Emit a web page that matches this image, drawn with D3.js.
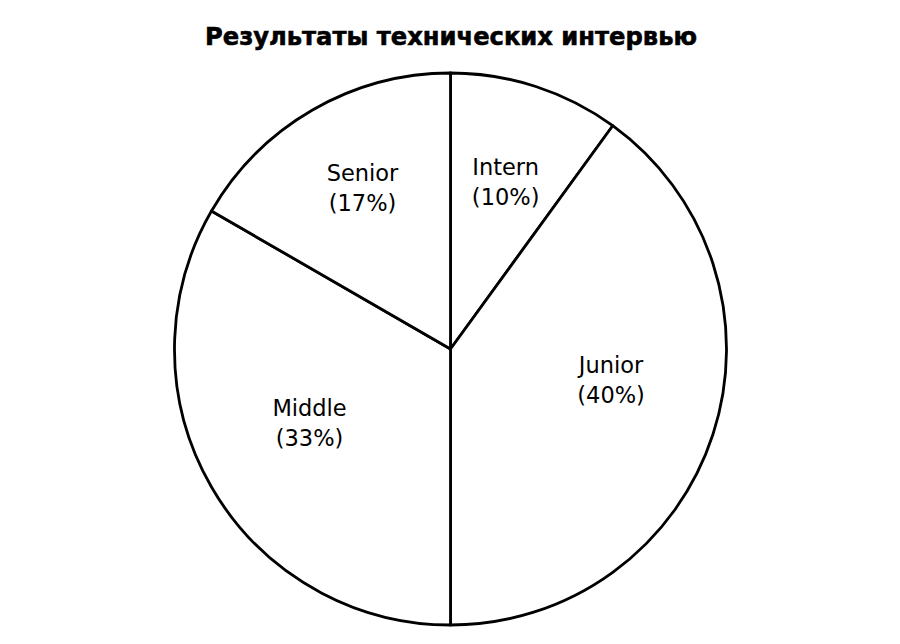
<!DOCTYPE html>
<html>
<head>
<meta charset="utf-8">
<script src="https://cdn.jsdelivr.net/npm/d3@7"></script>
<style>
  html, body { margin: 0; padding: 0; background: #fff; }
  svg { display: block; }
</style>
</head>
<body>
<svg id="chart" width="900" height="644"></svg>
<script>
// ---- data ----
const title = "Результаты технических интервью";
const categories = ["Intern", "Junior", "Middle", "Senior"];
const counts = [3, 12, 10, 5];

// ---- layout (not data) ----
const W = 900, H = 644;
const cx = 450.5, cy = 349, R = 276;
const labelRadius = 172;
const labelNudge = [[2, -4], [-3, -22], [8, -12], [-2, -12]];
const fontFamily = "'DejaVu Sans', 'Noto Sans', sans-serif";

const svg = d3.select("#chart");

// title
svg.append("text")
  .attr("x", 451).attr("y", 44.5)
  .attr("text-anchor", "middle")
  .attr("font-family", fontFamily)
  .attr("font-weight", "bold")
  .attr("font-size", 25)
  .attr("textLength", 492)
  .attr("lengthAdjust", "spacingAndGlyphs")
  .attr("fill", "#000")
  .attr("stroke", "#000")
  .attr("stroke-width", 0.6)
  .text(title);

const total = d3.sum(counts);
const data = categories.map((c, i) => ({ name: c, value: counts[i], i }));

const pie = d3.pie().value(d => d.value).sort(null).startAngle(0).endAngle(2 * Math.PI);
const arcs = pie(data);
const arc = d3.arc().innerRadius(0).outerRadius(R);
const labelArc = d3.arc().innerRadius(labelRadius).outerRadius(labelRadius);

const g = svg.append("g").attr("transform", `translate(${cx},${cy})`);

g.selectAll("path.slice")
  .data(arcs)
  .join("path")
  .attr("class", "slice")
  .attr("d", arc)
  .attr("fill", "#fff")
  .attr("stroke", "#000")
  .attr("stroke-width", 2.8)
  .attr("stroke-linejoin", "round");

const fs = 22.5;
const lineGap = 30;
const labels = g.selectAll("g.lab")
  .data(arcs)
  .join("g")
  .attr("class", "lab")
  .attr("transform", d => {
    const [x, y] = labelArc.centroid(d);
    const n = labelNudge[d.data.i];
    return `translate(${x + n[0]},${y + n[1]})`;
  });

labels.append("text")
  .attr("text-anchor", "middle")
  .attr("font-family", fontFamily)
  .attr("font-size", fs)
  .attr("fill", "#000")
  .attr("y", -lineGap / 2 + fs * 0.36)
  .text(d => d.data.name);

labels.append("text")
  .attr("text-anchor", "middle")
  .attr("font-family", fontFamily)
  .attr("font-size", fs)
  .attr("fill", "#000")
  .attr("y", lineGap / 2 + fs * 0.36)
  .text(d => "(" + d3.format(".0f")(d.data.value / total * 100) + "%)");
</script>
</body>
</html>
